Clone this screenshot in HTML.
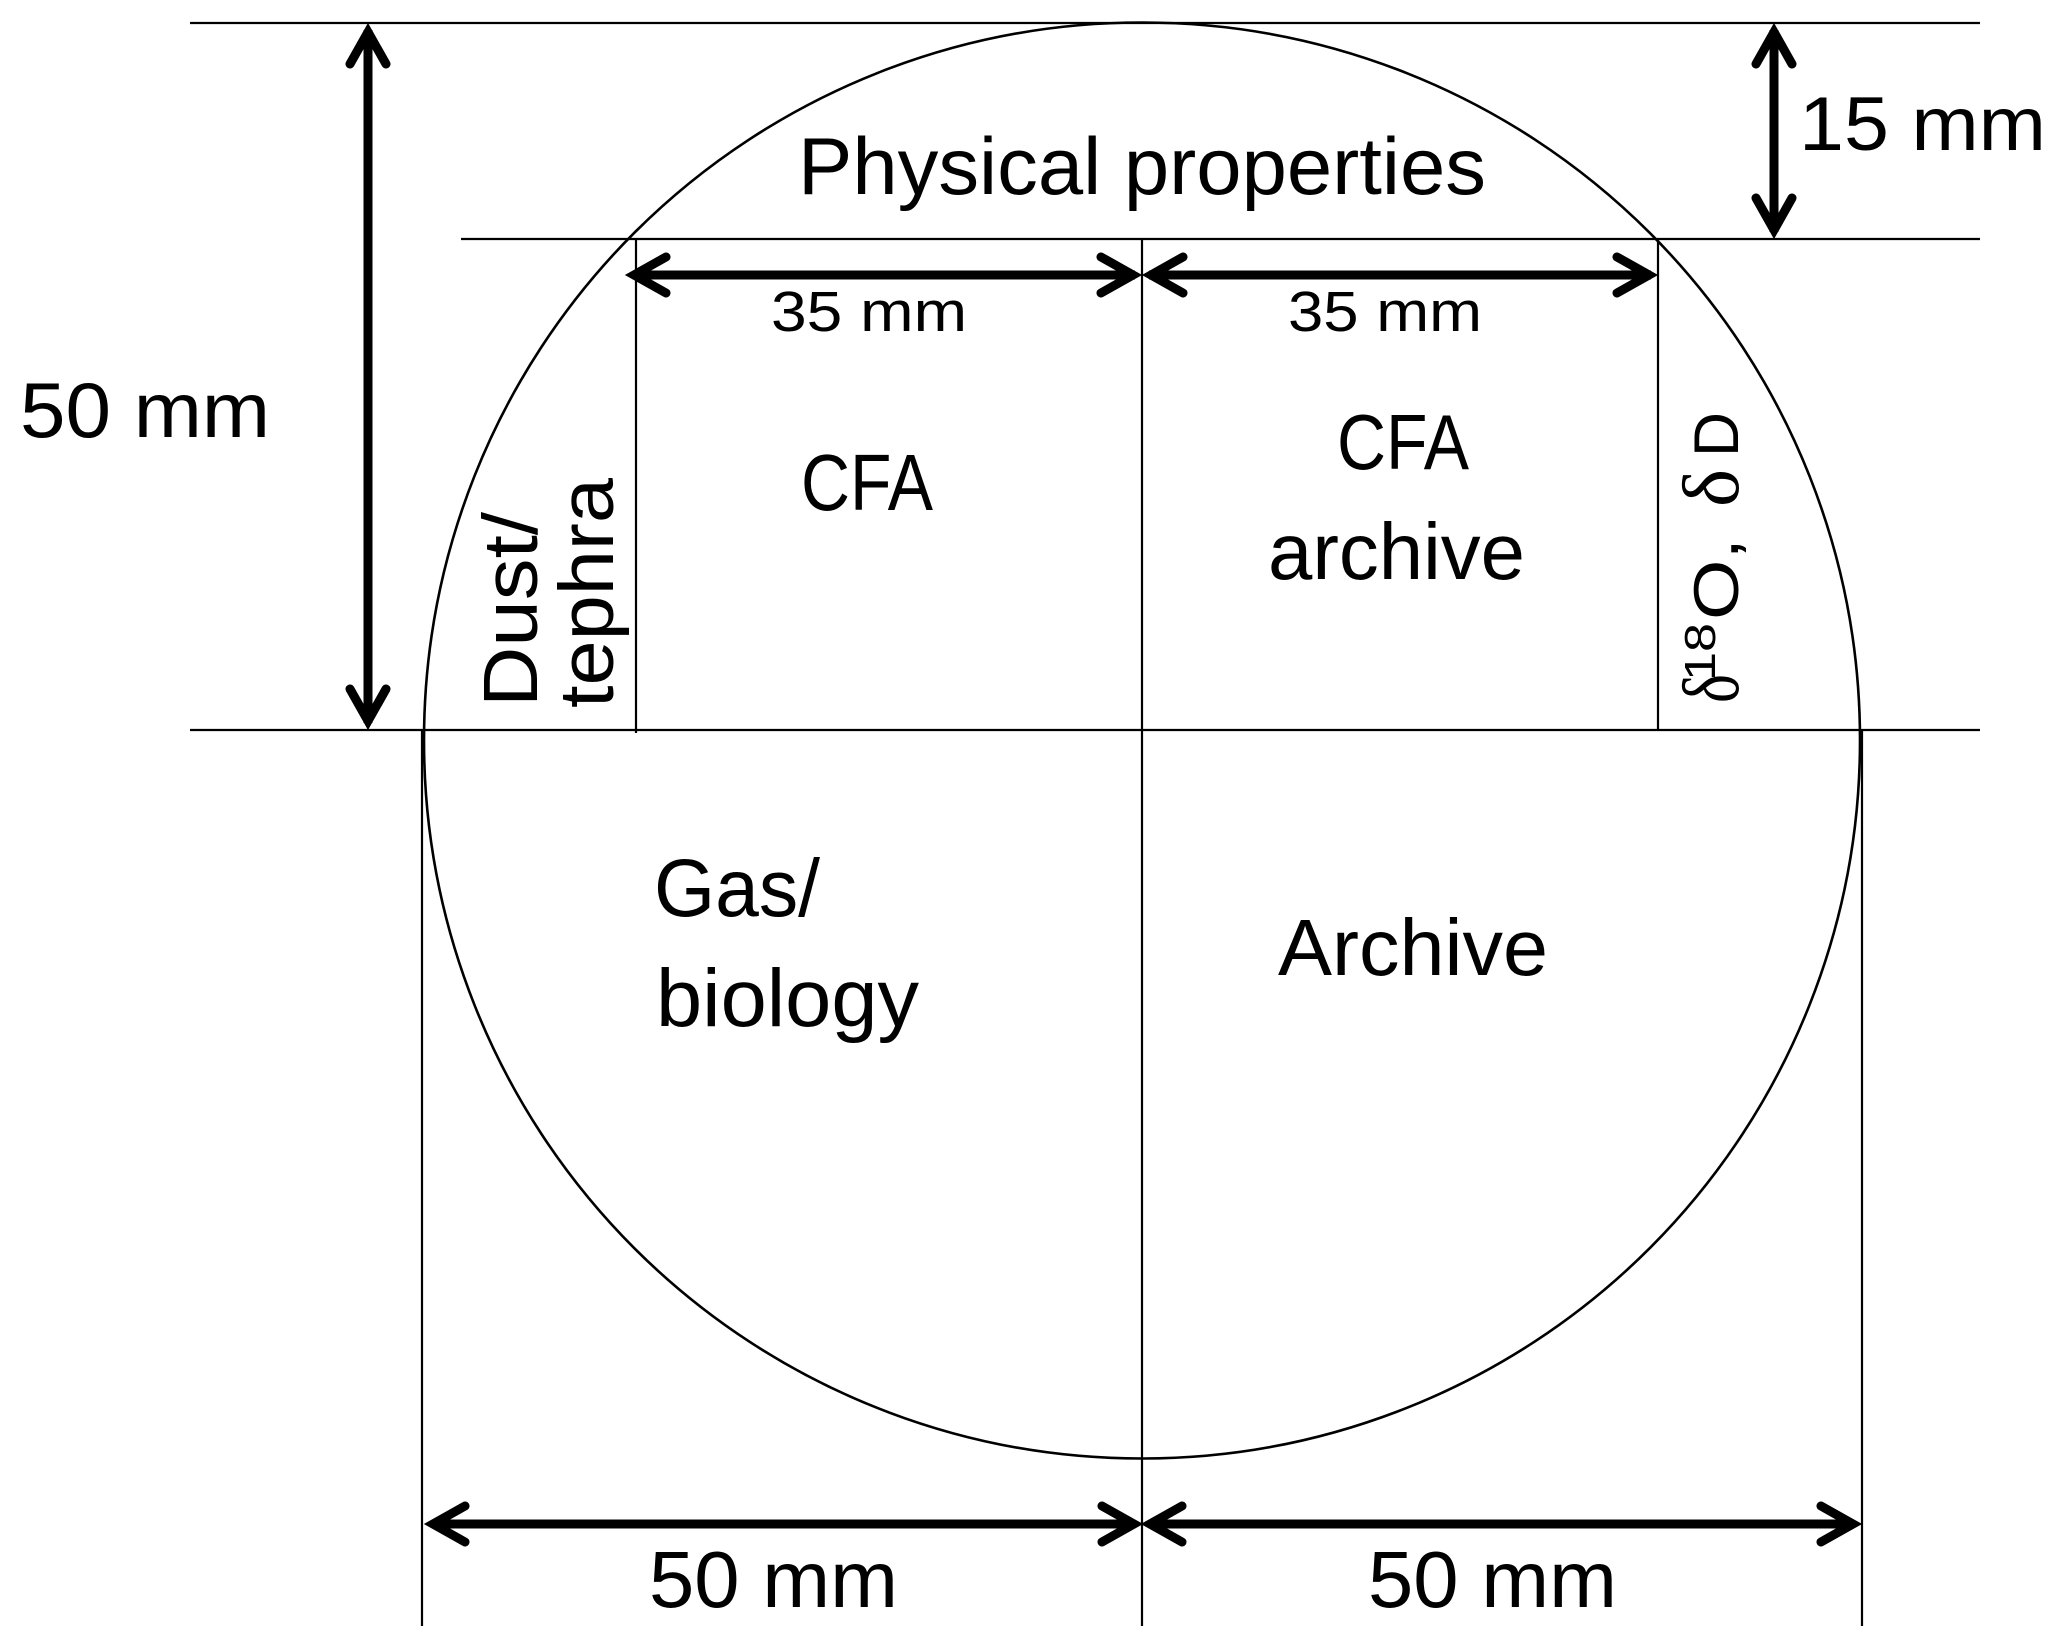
<!DOCTYPE html>
<html>
<head>
<meta charset="utf-8">
<style>
  html, body { margin: 0; padding: 0; background: #ffffff; }
  svg { display: block; }
  text { font-family: "Liberation Sans", "DejaVu Sans", sans-serif; fill: #000; }
  .serif { font-family: "Liberation Serif", "DejaVu Serif", serif; }
</style>
</head>
<body>
<svg width="2067" height="1647" viewBox="0 0 2067 1647" xmlns="http://www.w3.org/2000/svg">
  <rect x="0" y="0" width="2067" height="1647" fill="#ffffff"/>

  <!-- thin construction lines -->
  <g stroke="#000" stroke-width="2.2" fill="none">
    <line x1="190" y1="23" x2="1980" y2="23"/>
    <line x1="461" y1="239" x2="1980" y2="239"/>
    <line x1="190" y1="730" x2="1980" y2="730"/>
    <line x1="1142" y1="239" x2="1142" y2="1626"/>
    <line x1="636" y1="239" x2="636" y2="733"/>
    <line x1="1658" y1="239" x2="1658" y2="730"/>
    <line x1="422" y1="730" x2="422" y2="1626"/>
    <line x1="1862" y1="730" x2="1862" y2="1626"/>
  </g>

  <!-- circle -->
  <circle cx="1142" cy="740.5" r="718" fill="none" stroke="#000" stroke-width="2.6"/>

  <!-- thick dimension arrows -->
  <g stroke="#000" stroke-width="9" fill="none" stroke-linecap="round" stroke-linejoin="miter" stroke-miterlimit="6">
    <!-- left vertical 50 mm -->
    <line x1="368" y1="30" x2="368" y2="723" stroke-linecap="butt"/>
    <polyline points="350,64 368,32 386,64"/>
    <polyline points="350,689 368,721 386,689"/>

    <!-- 15 mm -->
    <line x1="1774" y1="30" x2="1774" y2="232" stroke-linecap="butt"/>
    <polyline points="1756,64 1774,32 1792,64"/>
    <polyline points="1756,198 1774,230 1792,198"/>

    <!-- 35 mm left -->
    <line x1="633" y1="275" x2="1135" y2="275" stroke-linecap="butt"/>
    <polyline points="666,257 634,275 666,293"/>
    <polyline points="1101,257 1133,275 1101,293"/>

    <!-- 35 mm right -->
    <line x1="1149" y1="275" x2="1651" y2="275" stroke-linecap="butt"/>
    <polyline points="1183,257 1151,275 1183,293"/>
    <polyline points="1617,257 1649,275 1617,293"/>

    <!-- bottom 50 mm left -->
    <line x1="432" y1="1524" x2="1135" y2="1524" stroke-linecap="butt"/>
    <polyline points="465,1506 433,1524 465,1542"/>
    <polyline points="1102,1506 1134,1524 1102,1542"/>

    <!-- bottom 50 mm right -->
    <line x1="1149" y1="1524" x2="1853" y2="1524" stroke-linecap="butt"/>
    <polyline points="1182,1506 1150,1524 1182,1542"/>
    <polyline points="1821,1506 1853,1524 1821,1542"/>
  </g>

  <!-- labels -->
  <text x="798" y="194" font-size="81" textLength="688" lengthAdjust="spacingAndGlyphs">Physical properties</text>
  <text x="1799" y="150" font-size="76" textLength="247" lengthAdjust="spacingAndGlyphs">15 mm</text>
  <text x="20" y="437" font-size="78" textLength="250" lengthAdjust="spacingAndGlyphs">50 mm</text>

  <text x="771" y="331" font-size="57" textLength="196" lengthAdjust="spacingAndGlyphs">35 mm</text>
  <text x="1288" y="331" font-size="57" textLength="194" lengthAdjust="spacingAndGlyphs">35 mm</text>

  <text x="801" y="510" font-size="80" textLength="132" lengthAdjust="spacingAndGlyphs">CFA</text>
  <text x="1337" y="469" font-size="78" textLength="132" lengthAdjust="spacingAndGlyphs">CFA</text>
  <text x="1268" y="579" font-size="80" textLength="257" lengthAdjust="spacingAndGlyphs">archive</text>

  <text x="654" y="916" font-size="82" textLength="166" lengthAdjust="spacingAndGlyphs">Gas/</text>
  <text x="656" y="1026" font-size="82" textLength="263" lengthAdjust="spacingAndGlyphs">biology</text>
  <text x="1278" y="975" font-size="80" textLength="270" lengthAdjust="spacingAndGlyphs">Archive</text>

  <text x="649" y="1607" font-size="80" textLength="249" lengthAdjust="spacingAndGlyphs">50 mm</text>
  <text x="1368" y="1607" font-size="80" textLength="249" lengthAdjust="spacingAndGlyphs">50 mm</text>

  <!-- rotated: Dust/ tephra -->
  <g transform="translate(537,707) rotate(-90)">
    <text x="0" y="0" font-size="77" textLength="195" lengthAdjust="spacingAndGlyphs">Dust/</text>
  </g>
  <g transform="translate(613,708) rotate(-90)">
    <text x="0" y="0" font-size="77" textLength="230" lengthAdjust="spacingAndGlyphs">tephra</text>
  </g>

  <!-- rotated: δ18O, δD -->
  <g transform="translate(1738,703) rotate(-90)">
    <text class="serif" x="0" y="0" font-size="80" textLength="29" lengthAdjust="spacingAndGlyphs">δ</text>
    <text x="22" y="-23" font-size="44" textLength="58" lengthAdjust="spacingAndGlyphs">18</text>
    <text x="83" y="0" font-size="63" textLength="82" lengthAdjust="spacingAndGlyphs">O,</text>
    <text class="serif" x="196" y="0" font-size="80" textLength="38" lengthAdjust="spacingAndGlyphs">δ</text>
    <text x="246" y="0" font-size="63" textLength="45" lengthAdjust="spacingAndGlyphs">D</text>
  </g>
</svg>
</body>
</html>
